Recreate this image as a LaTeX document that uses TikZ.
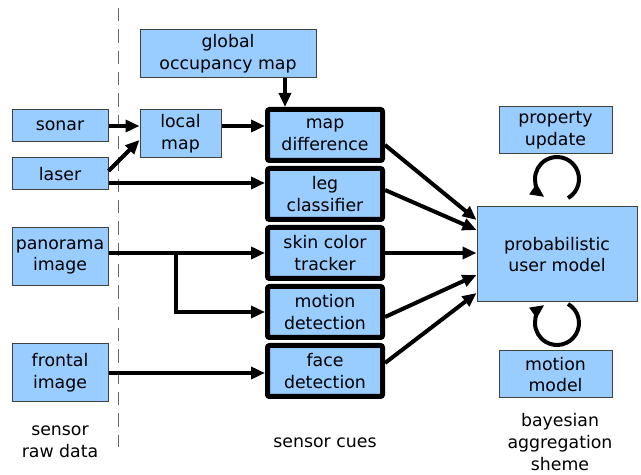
\documentclass[tikz,border=0pt]{standalone}
\usepackage{fontspec}
\setsansfont{DejaVu Sans}
\usetikzlibrary{arrows.meta}
\definecolor{cuefill}{HTML}{99CCFF}
\begin{document}
\begin{tikzpicture}[x=0.75pt, y=0.75pt,
   every node/.style={font=\sffamily\fontsize{13}{16.3}\selectfont, align=center},
   box/.style={draw=black!75, line width=0.75pt, fill=cuefill, inner sep=1pt},
   cue/.style={draw=black, line width=3.75pt, rounded corners=1.5pt, fill=cuefill,
               minimum width=86.25pt, minimum height=38.25pt, inner sep=1pt},
   link/.style={line width=3pt, -{Triangle[length=10.5pt,width=9pt]}}]
   \useasboundingbox (0,0) rectangle (641,474);

   % raw sensor data
   \node[box, minimum width=72pt, minimum height=24pt] (sonar) at (60,348) {sonar};
   \node[box, minimum width=72pt, minimum height=24pt] (laser) at (60,300) {laser};
   \node[box, minimum width=72pt, minimum height=43.5pt] (pano) at (60,217) {panorama\\image};
   \node[box, minimum width=72pt, minimum height=43.5pt] (front) at (60,101) {frontal\\image};
   \node[box, minimum width=132pt, minimum height=36pt] (glob) at (228,420) {global\\occupancy map};
   \node[box, minimum width=60.75pt, minimum height=36pt] (local) at (180.5,340) {local\\map};

   % sensor cues
   \node[cue] (mapdiff) at (325,339) {map\\difference};
   \node[cue] (leg) at (325,280) {leg\\classifier};
   \node[cue] (skin) at (325,221) {skin color\\tracker};
   \node[cue] (motion) at (325,162) {motion\\detection};
   \node[cue] (face) at (325,103) {face\\detection};

   % aggregation
   \node[box, minimum width=84.75pt, minimum height=35.25pt] (prop) at (555.5,343.5) {property\\update};
   \node[box, minimum width=120pt, minimum height=71.25pt] (user) at (557,219.5) {probabilistic\\user model};
   \node[box, minimum width=84.75pt, minimum height=35.25pt] (mmodel) at (555.5,99.5) {motion\\model};

   % column captions
   \node (rawcap) at (60,32) {sensor\\raw data};
   \node (cuecap) at (325,31) {sensor cues};
   \node (bayescap) at (560,32) {bayesian\\aggregation\\sheme};
   \draw[black!60, line width=0.75pt, dash pattern=on 10pt off 6pt] (118,466) -- (118,27);

   % raw data -> cues
   \draw[link] (sonar.east) -- (sonar.east -| local.west);
   \draw[link] ([yshift=2.25pt]laser.east) -- ([yshift=-4.5pt]local.west);
   \draw[link] ([yshift=-6.75pt]laser.east) -- ([yshift=-6.75pt]laser.east -| leg.west);
   \draw[link] ([yshift=6pt]local.east) -- ([yshift=6pt]local.east -| mapdiff.west);
   \draw[link] ([xshift=42.75pt]glob.south) -- ([xshift=42.75pt]glob.south |- mapdiff.north);
   \coordinate (split) at (176,0 |- skin);
   \draw[link] (skin -| pano.east) -- (skin.west);
   \draw[link] (split) |- (motion.west);
   \draw[link] (front.east) -- (front.east -| face.west);

   % cues -> user model
   \draw[link] ([yshift=-7.5pt]mapdiff.east) -- ([yshift=25.9pt]user.west);
   \draw[link] ([yshift=3pt]leg.east) -- ([yshift=18.4pt]user.west);
   \draw[link] (skin.east) -- (skin.east -| user.west);
   \draw[link] ([yshift=-3.75pt]motion.east) -- ([yshift=-15.4pt]user.west);
   \draw[link] ([yshift=6pt]face.east) -- ([yshift=-28.9pt]user.west);

   % update loops
   \coordinate (uptop) at (557,295);
   \coordinate (upbot) at (557,151);
   \draw[link] ([shift={(-60:22)}]uptop) arc[start angle=-60, end angle=235, radius=22];
   \draw[link] ([shift={(60:22)}]upbot) arc[start angle=60, end angle=-235, radius=22];
\end{tikzpicture}
\end{document}
